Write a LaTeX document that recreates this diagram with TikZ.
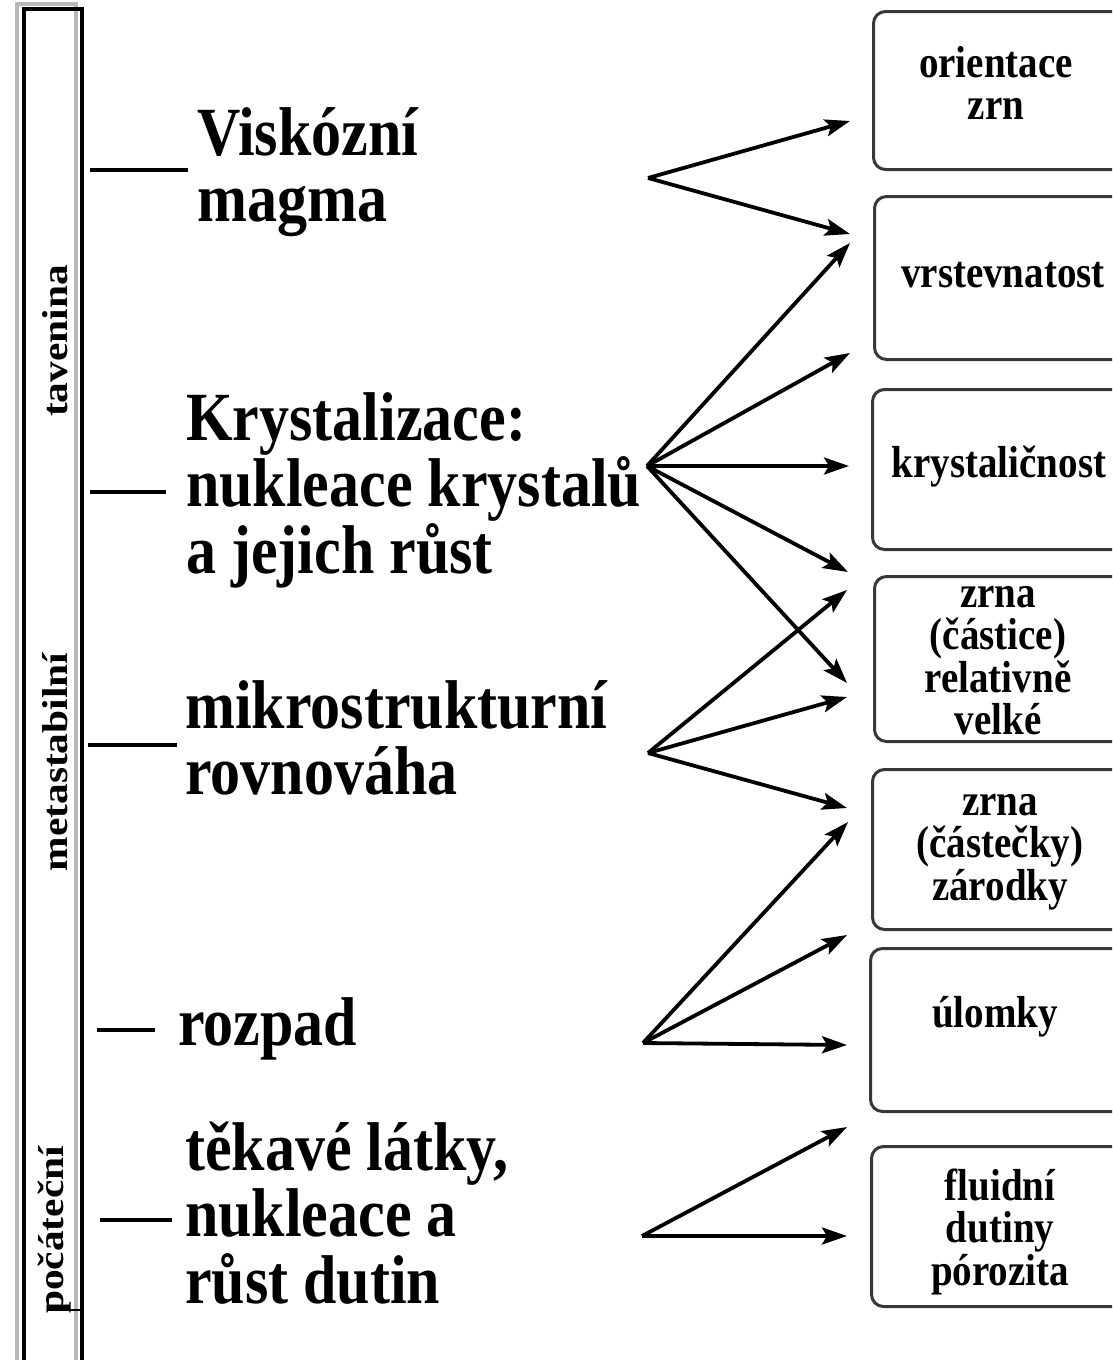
\documentclass[tikz,border=0pt]{standalone}
\usepackage{fontspec}
\setmainfont{Liberation Serif}
\usepackage{graphicx}
\usetikzlibrary{arrows.meta}
\newcommand\LLines[1]{\scalebox{1}[1.15]{\vtop{\lineskiplimit=-1000pt\lineskip=0pt\halign{##\hfil\cr#1\crcr}}}}
\newcommand\CLines[1]{\scalebox{1}[1.15]{\vtop{\lineskiplimit=-1000pt\lineskip=0pt\halign{\hfil##\hfil\cr#1\crcr}}}}
\newcommand\Stretch[1]{\scalebox{1.15}[1]{#1}}
\tikzset{
  bigtxt/.style={font=\fontsize{60}{58}\selectfont\bfseries, inner sep=0pt, anchor=base west},
  boxtxt/.style={font=\fontsize{39}{37}\selectfont\bfseries, inner sep=0pt, anchor=base},
  sidetxt/.style={font=\fontsize{36}{36}\selectfont\bfseries, inner sep=0pt, rotate=90},
  outbox/.style={draw=black!78, line width=3pt, rounded corners=12pt, inner sep=0pt,
                 minimum width=270pt, anchor=north west},
  barbox/.style={draw=black, line width=4pt, inner sep=0pt, anchor=north west},
  tickline/.style={line width=4pt},
  arr/.style={line width=3.8pt, -{Stealth[length=25pt,width=17pt,inset=5pt]}},
}
\begin{document}
\begin{tikzpicture}[x=1pt,y=-1pt]
\useasboundingbox (0,0) rectangle (1112,1360);
\fill[white] (0,0) rectangle (1112,1360);
\clip (0,0) rectangle (1112,1360);

% left bar
\draw[gray!55, line width=4pt] (17,4) rectangle (76,1375);
\node[barbox, minimum width=58.5pt, minimum height=1370pt] (bar) at (21.5,7) {};
\node[sidetxt] (tav) at (55,341) {\Stretch{tavenina}};
\node[sidetxt] (meta) at (55,762) {\Stretch{metastabilní}};
\node[sidetxt] (poc) at (55,1230) {\Stretch{počáteční}};
\draw[line width=2.5pt] (48,1296) -- (48,1310) -- (80,1310);

% left labels
\node[bigtxt] (visk) at (197,155) {\LLines{Viskózní\cr magma}};
\node[bigtxt] (kryst) at (186,440) {\LLines{Krystalizace:\cr nukleace krystalů\cr a jejich růst}};
\node[bigtxt] (mikro) at (185,728) {\LLines{mikrostrukturní\cr rovnováha}};
\node[bigtxt] (rozp) at (178,1045) {\LLines{rozpad}};
\node[bigtxt] (tek) at (185,1170) {\LLines{těkavé látky,\cr nukleace a\cr růst dutin}};

% ticks from bar
\coordinate (k1a) at (90,170);   \coordinate (k1b) at (188,170);
\coordinate (k2a) at (90,492);   \coordinate (k2b) at (166,492);
\coordinate (k3a) at (88,745);   \coordinate (k3b) at (177,745);
\coordinate (k4a) at (97,1030);  \coordinate (k4b) at (155,1030);
\coordinate (k5a) at (100,1220); \coordinate (k5b) at (172,1220);
\draw[tickline] (k1a) -- (k1b);
\draw[tickline] (k2a) -- (k2b);
\draw[tickline] (k3a) -- (k3b);
\draw[tickline] (k4a) -- (k4b);
\draw[tickline] (k5a) -- (k5b);

% right boxes
\node[outbox, minimum height=158pt] (b1) at (872,10) {};
\node[outbox, minimum height=163pt] (b2) at (873,195) {};
\node[outbox, minimum height=160pt] (b3) at (871,388) {};
\node[outbox, minimum height=165pt] (b4) at (873,575) {};
\node[outbox, minimum height=160pt] (b5) at (871,768) {};
\node[outbox, minimum height=163pt] (b6) at (869,947) {};
\node[outbox, minimum height=160pt] (b7) at (870,1145) {};

\node[boxtxt] (t1) at (996,77) {\CLines{orientace\cr zrn}};
\node[boxtxt] (t2) at (1003,287) {\CLines{vrstevnatost}};
\node[boxtxt] (t3) at (999,477) {\CLines{krystaličnost}};
\node[boxtxt] (t4) at (998,607) {\CLines{zrna\cr (částice)\cr relativně\cr velké}};
\node[boxtxt] (t5) at (1000,815) {\CLines{zrna\cr (částečky)\cr zárodky}};
\node[boxtxt] (t6) at (995,1027) {\CLines{úlomky}};
\node[boxtxt] (t7) at (1000,1200) {\CLines{fluidní\cr dutiny\cr pórozita}};

% arrow sources
\coordinate (s1) at (648,178);
\coordinate (s2) at (647,466);
\coordinate (s3) at (648,753);
\coordinate (s4) at (643,1043);
\coordinate (s5) at (642,1236);
% arrow tips
\coordinate (e11) at (850,121);
\coordinate (e12) at (850,234);
\coordinate (e21) at (850,243);
\coordinate (e22) at (850,353);
\coordinate (e23) at (849,466);
\coordinate (e24) at (848,572);
\coordinate (e25) at (847,683);
\coordinate (e31) at (847,590);
\coordinate (e32) at (847,697);
\coordinate (e33) at (847,808);
\coordinate (e41) at (848,822);
\coordinate (e42) at (847,935);
\coordinate (e43) at (847,1045);
\coordinate (e51) at (847,1127);
\coordinate (e52) at (847,1236);

\draw[arr] (s1) -- (e11);
\draw[arr] (s1) -- (e12);
\draw[arr] (s2) -- (e21);
\draw[arr] (s2) -- (e22);
\draw[arr] (s2) -- (e23);
\draw[arr] (s2) -- (e24);
\draw[arr] (s2) -- (e25);
\draw[arr] (s3) -- (e31);
\draw[arr] (s3) -- (e32);
\draw[arr] (s3) -- (e33);
\draw[arr] (s4) -- (e41);
\draw[arr] (s4) -- (e42);
\draw[arr] (s4) -- (e43);
\draw[arr] (s5) -- (e51);
\draw[arr] (s5) -- (e52);
\end{tikzpicture}
\end{document}
